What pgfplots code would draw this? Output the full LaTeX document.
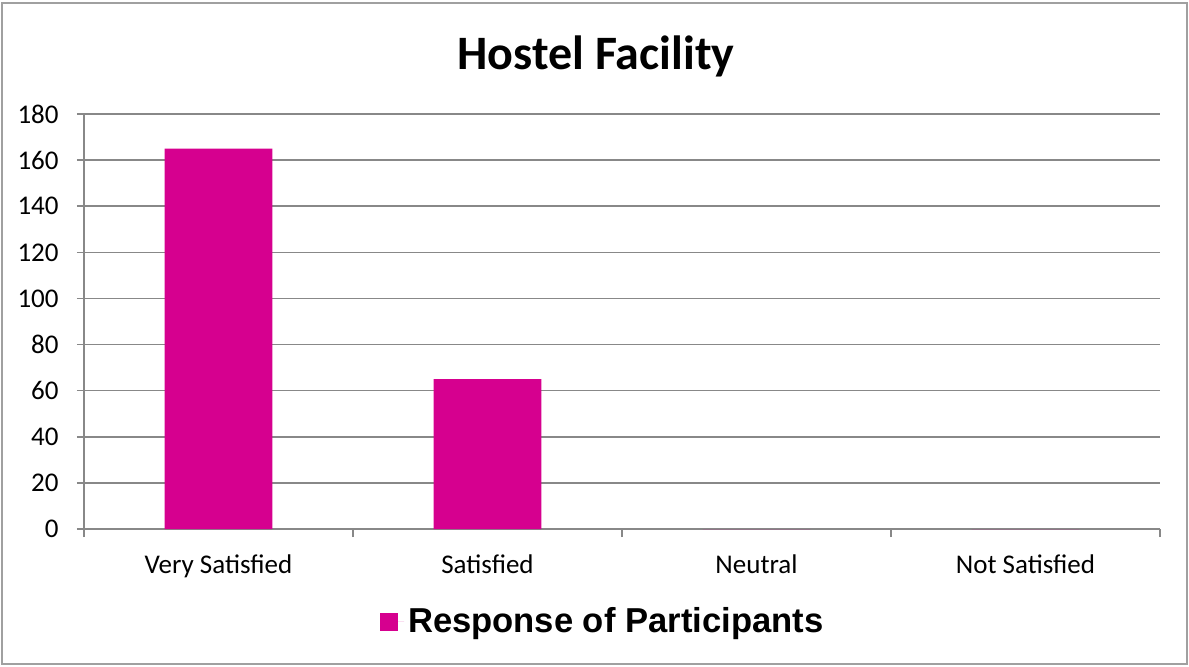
\documentclass[border=0pt]{standalone}
\usepackage{fontspec}
\setmainfont{Carlito}
\newfontfamily\arialfont{Liberation Sans}
\usepackage{pgfplots}
\pgfplotsset{compat=1.18}
\definecolor{barcolor}{RGB}{214,0,143}
\definecolor{gridgray}{RGB}{136,136,136}
\definecolor{bordergray}{RGB}{160,160,160}
\begin{document}
\begin{tikzpicture}
\useasboundingbox (0,0) rectangle (594.5pt,333pt);
\draw[bordergray, line width=0.75pt] (1pt,1pt) rectangle (593.5pt,331.5pt);
\node[font=\fontsize{24}{28}\selectfont\bfseries, inner sep=0] at (298pt,305pt) {Hostel Facility};
\begin{axis}[
  at={(42pt,68.5pt)}, anchor=south west,
  scale only axis, width=538pt, height=207.5pt,
  xmin=-0.5, xmax=3.5, ymin=0, ymax=180,
  axis x line*=bottom, axis y line*=left,
  axis line style={-, draw=gridgray, line width=0.75pt},
  ytick={0,20,...,180},
  ymajorgrids, grid style={draw=gridgray, line width=0.75pt},
  tick align=outside,
  ytick style={draw=gridgray, line width=0.75pt},
  major tick length=3.5pt,
  xtick={0,1,2,3},
  xticklabels={Very Satisfied, Satisfied, Neutral, Not Satisfied},
  xtick style={draw=none},
  extra x ticks={-0.5,0.5,1.5,2.5,3.5},
  extra x tick labels={},
  extra x tick style={xtick style={draw=gridgray, line width=0.75pt}, major tick length=4pt, grid=none},
  /pgf/number format/assume math mode=true,
  ticklabel style={font=\fontsize{13.5}{16}\selectfont, inner sep=0pt},
  yticklabel style={anchor=east, xshift=-9pt},
  xticklabel style={anchor=base, yshift=-18.5pt},
  ybar, bar width=0.4,
  legend style={at={(0.483,-0.224)}, anchor=center, draw=none, fill=none,
    font=\arialfont\bfseries\fontsize{17.3}{20}\selectfont},
  legend image code/.code={\fill[barcolor] (0pt,-4.5pt) rectangle (9pt,4.5pt); \path (0pt,0pt) -- (12pt,0pt);},
]
\addplot[fill=barcolor, draw=none] coordinates {(0,165) (1,65) (2,0) (3,0)};
\addlegendentry{Response of Participants}
\end{axis}
\end{tikzpicture}
\end{document}
